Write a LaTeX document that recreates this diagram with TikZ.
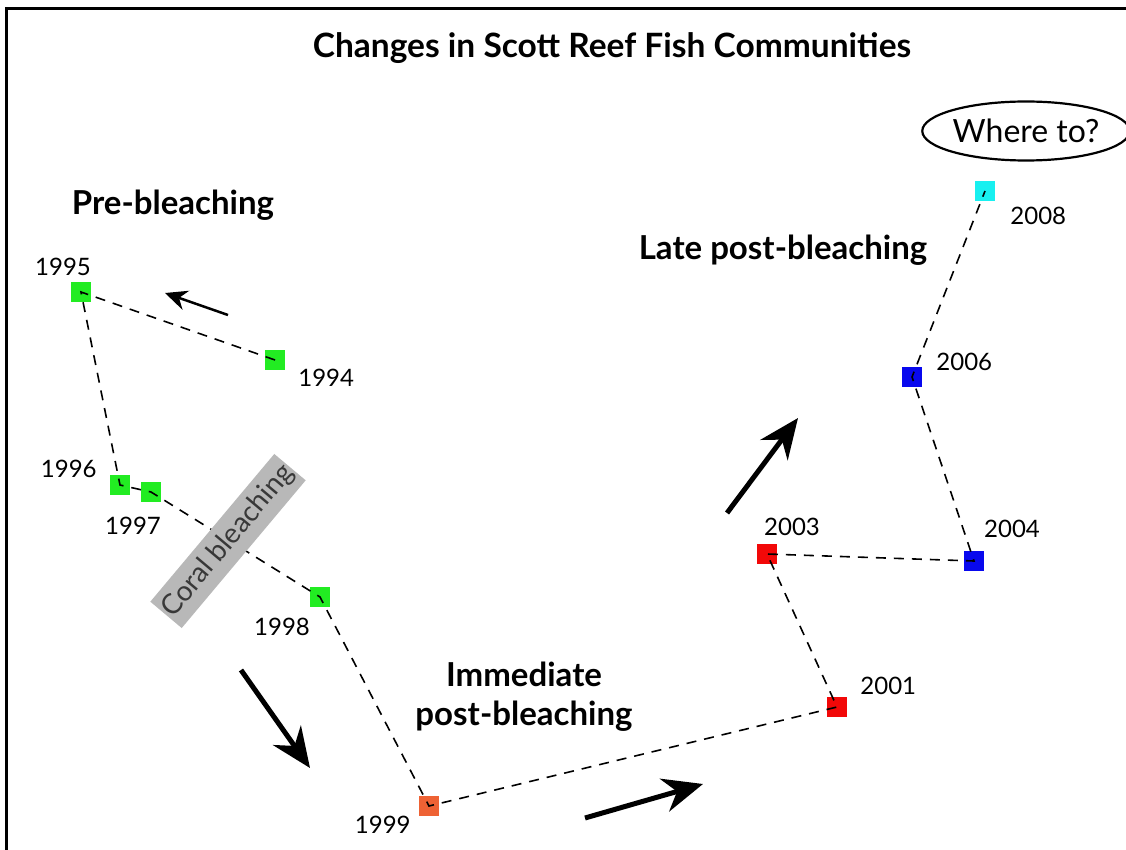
\documentclass[tikz,border=0pt]{standalone}
\usepackage{fontspec}
\setmainfont{Lato}
\usetikzlibrary{arrows.meta, positioning, shapes.geometric}
\definecolor{prebl}{RGB}{34,236,34}
\definecolor{immbl}{RGB}{238,98,52}
\definecolor{midbl}{RGB}{242,8,8}
\definecolor{latebl}{RGB}{8,8,238}
\definecolor{nowbl}{RGB}{24,240,240}
\tikzset{yr/.style={rectangle, minimum size=20pt, inner sep=0pt},
  yrlabel/.style={inner sep=0pt, font=\fontsize{24}{24}\selectfont},
  phase/.style={align=center, font=\fontsize{33}{39}\selectfont\bfseries},
  trail/.style={dash pattern=on 10pt off 8pt, line width=1.6pt},
  bigarrow/.style={line width=5pt, -{Stealth[length=40pt, width=34pt]}}}

\begin{document}
\begin{tikzpicture}[x=1pt, y=-1pt]
            \useasboundingbox (0,0) rectangle (1126,850);
            \draw[line width=3pt] (6,880) |- (1150,9);
            \node[font=\fontsize{33.5}{36}\selectfont\bfseries] (title) at (612,48) {Changes in Scott Reef Fish Communities};

            \node[phase] (pre) at (173,205) {Pre-bleaching};
            \node[phase] (late) at (783,250) {Late post-bleaching};
            \node[phase] (imm) at (524,697) {Immediate\\post-bleaching};

            \node[draw, ellipse, line width=2.2pt, minimum width=188pt, minimum height=59pt, inner sep=0pt, font=\fontsize{32}{32}\selectfont] (where) at (1026,131) {Where to?};

            \node[yr, fill=prebl] (s1994) at (275,360) {};
            \node[yr, fill=prebl] (s1995) at (81,292) {};
            \node[yr, fill=prebl] (s1996) at (120,485) {};
            \node[yr, fill=prebl] (s1997) at (151,492) {};
            \node[yr, fill=prebl] (s1998) at (320,597) {};
            \node[yr, fill=immbl] (s1999) at (429,806) {};
            \node[yr, fill=midbl] (s2001) at (837,707) {};
            \node[yr, fill=midbl] (s2003) at (767,554) {};
            \node[yr, fill=latebl] (s2004) at (974,561) {};
            \node[yr, fill=latebl] (s2006) at (912,377) {};
            \node[yr, fill=nowbl] (s2008) at (985,191) {};

            \node[yrlabel, right=13pt of s1994, yshift=-18pt] (l1994) {1994};
            \node[yrlabel, above=6pt of s1995, xshift=-18pt] (l1995) {1995};
            \node[yrlabel, left=13pt of s1996, yshift=16pt] (l1996) {1996};
            \node[yrlabel, below=15pt of s1997, xshift=-18pt] (l1997) {1997};
            \node[yrlabel, below=11pt of s1998, xshift=-38pt] (l1998) {1998};
            \node[yrlabel, left=8pt of s1999, yshift=-19pt] (l1999) {1999};
            \node[yrlabel, right=13pt of s2001, yshift=21pt] (l2001) {2001};
            \node[yrlabel, above=8pt of s2003, xshift=25pt] (l2003) {2003};
            \node[yrlabel, above=13pt of s2004, xshift=38pt] (l2004) {2004};
            \node[yrlabel, right=14pt of s2006, yshift=15pt] (l2006) {2006};
            \node[yrlabel, right=15pt of s2008, yshift=-25pt] (l2008) {2008};

            \draw[trail] (s1994.center) -- (s1995.center) -- (s1996.center) -- (s1997.center) -- (s1998.center) -- (s1999.center) -- (s2001.center) -- (s2003.center) -- (s2004.center) -- (s2006.center) -- (s2008.center);

            % the banner sits on top of the 1997--1998 leg
            \node[fill=gray!56, text=black!78, rotate=50, minimum width=192pt, minimum height=41pt, inner sep=2pt, font=\fontsize{28}{28}\selectfont] (coral) at (228,541) {Coral bleaching};

            \coordinate (back-from) at (228,315);
            \coordinate (back-to) at (165,293);
            \coordinate (drop-from) at (241,670);
            \coordinate (drop-to) at (310,768);
            \coordinate (rise-from) at (585,818);
            \coordinate (rise-to) at (703,784);
            \coordinate (late-from) at (727,513);
            \coordinate (late-to) at (798,418);
            \draw[line width=2.5pt, -{Stealth[length=22pt, width=20pt]}] (back-from) -- (back-to);
            \draw[bigarrow] (drop-from) -- (drop-to);
            \draw[bigarrow] (rise-from) -- (rise-to);
            \draw[bigarrow] (late-from) -- (late-to);
      \end{tikzpicture}
\end{document}
